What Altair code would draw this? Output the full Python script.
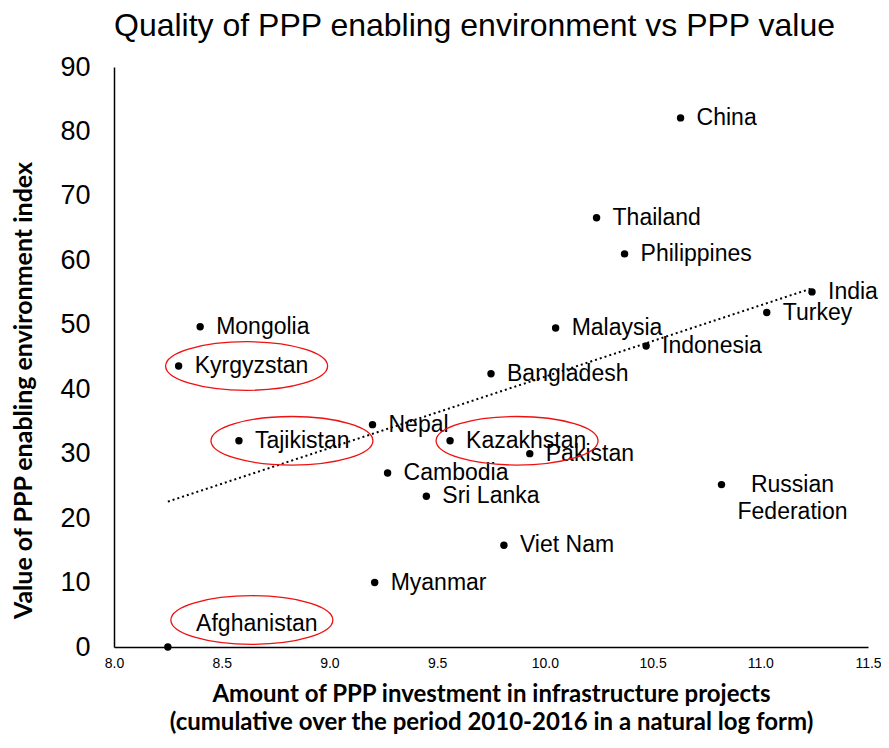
import altair as alt
import pandas as pd

countries = ["Afghanistan", "Myanmar", "Viet Nam", "Sri Lanka", "Cambodia",
             "Tajikistan", "Nepal", "Kazakhstan", "Pakistan", "Bangladesh",
             "Kyrgyzstan", "Mongolia", "Malaysia", "Indonesia", "Thailand",
             "Philippines", "China", "India", "Turkey", "Russian Federation"]
investment = [8.25, 9.21, 9.81, 9.45, 9.27,
              8.58, 9.20, 9.56, 9.93, 9.75,
              8.30, 8.40, 10.05, 10.47, 10.24,
              10.37, 10.63, 11.24, 11.03, 10.82]
index_value = [0.0, 10.0, 15.8, 23.4, 27.0,
               32.0, 34.5, 32.0, 30.0, 42.4,
               43.6, 49.7, 49.5, 46.7, 66.6,
               61.0, 82.1, 55.1, 51.9, 25.2]
labels = [c.replace("Russian Federation", "Russian\nFederation") for c in countries]

x_ticks = [8.0, 8.5, 9.0, 9.5, 10.0, 10.5, 11.0, 11.5]
y_ticks = [0, 10, 20, 30, 40, 50, 60, 70, 80, 90]

df = pd.DataFrame({"country": countries, "x": investment, "y": index_value, "label": labels})

FONT = "Liberation Sans"
TFONT = "Lato"

base = alt.Chart(df).encode(
    x=alt.X("x:Q",
            scale=alt.Scale(domain=[8.0, 11.5], nice=False, zero=False),
            axis=alt.Axis(values=x_ticks, format=".1f",
                          title=["Amount of PPP investment in infrastructure projects",
                                 "(cumulative over the period 2010-2016 in a natural log form)"],
                          labelFont=FONT, labelFontSize=14, labelColor="black",
                          labelPadding=9, labelFlush=False, ticks=False, grid=False,
                          domainColor="black", domainWidth=1.5,
                          titleFont=TFONT, titleFontSize=24, titleFontWeight="bold",
                          titleColor="black", titlePadding=12, titleLineHeight=28)),
    y=alt.Y("y:Q",
            scale=alt.Scale(domain=[0, 90], nice=False),
            axis=alt.Axis(values=y_ticks,
                          title="Value of PPP enabling environment index",
                          labelFont=FONT, labelFontSize=27, labelColor="black",
                          labelPadding=24, labelFlush=False, ticks=False, grid=False,
                          domainColor="black", domainWidth=1.5,
                          titleFont=TFONT, titleFontSize=25, titleFontWeight="bold",
                          titleColor="black", titlePadding=23, titleY=323)),
)

trend = base.transform_regression("x", "y").mark_line(
    color="black", strokeDash=[2, 3], strokeWidth=2)

points = base.mark_circle(size=55, color="black", opacity=1)

normal_labels = base.transform_filter(
    "indexof(['Afghanistan','Russian Federation'], datum.country) < 0"
).mark_text(align="left", baseline="middle", dx=16, font=FONT, fontSize=23,
            color="black").encode(text="label:N")

afg_label = base.transform_filter("datum.country == 'Afghanistan'").mark_text(
    align="center", baseline="middle", dx=89, dy=-23, font=FONT, fontSize=23,
    color="black").encode(text="label:N")

rus_label = base.transform_filter("datum.country == 'Russian Federation'").mark_text(
    align="center", baseline="middle", dx=71, dy=0, font=FONT, fontSize=23,
    lineBreak="\n", lineHeight=27, color="black").encode(text="label:N")

ELLIPSE = "M-1,0A1,0.3,0,1,1,1,0A1,0.3,0,1,1,-1,0Z"


def ellipse(name, xo, yo=0):
    return base.transform_filter(f"datum.country == '{name}'").mark_point(
        shape=ELLIPSE, size=162 * 162, filled=False, color="#ee1111",
        strokeWidth=1.3, opacity=1, xOffset=xo, yOffset=yo)


rings = [ellipse("Kyrgyzstan", 68), ellipse("Tajikistan", 53),
         ellipse("Kazakhstan", 67), ellipse("Afghanistan", 84, -27)]

chart = alt.layer(trend, points, normal_labels, afg_label, rus_label, *rings).properties(
    width=754, height=580,
    autosize=alt.AutoSizeParams(type="none"),
    padding={"left": 106, "top": 59, "right": 13, "bottom": 89},
    title=alt.TitleParams("Quality of PPP enabling environment vs PPP value",
                          font=FONT, fontSize=32, fontWeight="normal", color="black",
                          anchor="start", frame="group", offset=10),
).configure_view(stroke=None)

chart.save("out.html", embed_options={"renderer": "svg", "actions": False})
